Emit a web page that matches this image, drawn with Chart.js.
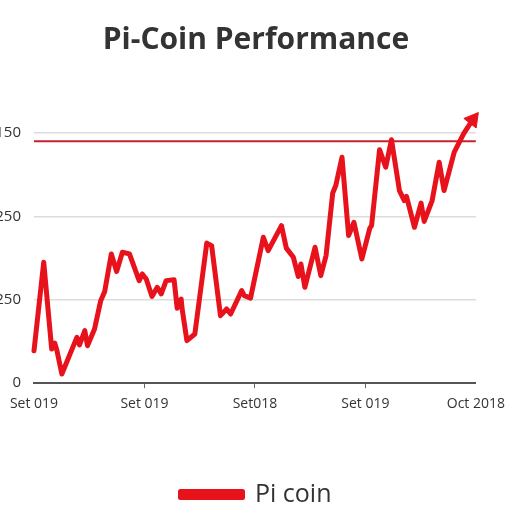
<!DOCTYPE html>
<html>
<head>
<meta charset="utf-8">
<script src="https://cdn.jsdelivr.net/npm/chart.js@4/dist/chart.umd.min.js"></script>
<style>
  html, body { margin: 0; padding: 0; background: #fff; }
  canvas { display: block; }
</style>
</head>
<body>
<canvas id="grafico" width="512" height="512"></canvas>
<script>
// valores (x: 0..100 ao longo do eixo, y: unidades do eixo)
const posicoes = [0, 2.2, 4, 4.7, 5.2, 6.3, 9.7, 10.3, 11.5, 12.1, 13.7, 15.1, 16, 17.5, 18.7, 20,
  21.6, 23.8, 24.5, 25.4, 26.7, 27.9, 28.8, 29.9, 31.7, 32.4, 33.3, 33.5, 34.6, 36.4, 39.1, 40.2,
  42.2, 43.6, 44.5, 47, 47.6, 49, 51.9, 53, 56, 57.1, 58.7, 59.8, 60.4, 61.3, 63.6, 64.9, 66.1,
  67.6, 68.3, 69.7, 71.2, 72.4, 74.2, 76, 76.4, 78.2, 79.6, 80.9, 82.7, 83.8, 84.3, 86.1, 87.6,
  88.3, 90.1, 91.7, 92.8, 95.1, 97.3, 99.3];
const valoresPi = [39, 145, 41, 48, 39, 11, 55, 46, 63, 45, 65, 99, 110, 155, 134, 157,
  155, 123, 131, 125, 104, 115, 107, 123, 124, 90, 101, 90, 51, 59, 168, 165,
  81, 89, 83, 111, 105, 102, 175, 159, 189, 162, 151, 128, 143, 115, 163, 129, 153,
  228, 237, 271, 177, 193, 149, 186, 189, 280, 259, 292, 231, 219, 224, 187, 216,
  194, 219, 265, 231, 277, 300, 316];
const nivelReferencia = 290;

const ticksX = [0, 25, 50, 75, 100];
const rotulosX = ['Set 019', 'Set 019', 'Set018', 'Set 019', 'Oct 2018'];
const ticksY = [0, 100, 200, 300];
const rotulosY = ['0', '250', '250', '150'];

const vermelho = '#e8121c';
const ultimo = posicoes.length - 1;

const pontos = posicoes.map((x, i) => ({ x, y: valoresPi[i] }));

new Chart(document.getElementById('grafico').getContext('2d'), {
  type: 'line',
  data: {
    datasets: [
      {
        label: 'Pi coin',
        data: pontos,
        borderColor: vermelho,
        backgroundColor: vermelho,
        borderWidth: 5,
        borderJoinStyle: 'round',
        borderCapStyle: 'round',
        tension: 0,
        clip: false,
        pointStyle: 'triangle',
        pointRotation: 38,
        pointRadius: ctx => ctx.dataIndex === ultimo ? 9 : 0,
        pointBorderWidth: 1
      },
      {
        label: 'ref',
        data: [{ x: 0, y: nivelReferencia }, { x: 100, y: nivelReferencia }],
        borderColor: '#c9202e',
        borderWidth: 2,
        pointRadius: 0
      }
    ]
  },
  options: {
    responsive: false,
    animation: false,
    layout: { padding: { left: 0, right: 0, top: 0, bottom: -5 } },
    plugins: {
      title: {
        display: true,
        text: 'Pi-Coin Performance',
        color: '#333',
        font: { family: 'Open Sans', size: 30, weight: 'bold' },
        padding: { top: 22, bottom: 50 }
      },
      legend: {
        position: 'bottom',
        labels: {
          boxWidth: 62,
          boxHeight: 6,
          padding: 0,
          color: '#333',
          font: { family: 'Open Sans', size: 25 },
          filter: item => item.datasetIndex === 0
        }
      },
      tooltip: { enabled: false }
    },
    scales: {
      x: {
        type: 'linear',
        min: 0,
        max: 100,
        afterBuildTicks: s => { s.ticks = ticksX.map(v => ({ value: v })); },
        afterFit: s => { s.height += 63; },
        ticks: {
          color: '#333',
          font: { family: 'Open Sans', size: 14 },
          padding: 7,
          maxRotation: 0,
          callback: (v, i) => rotulosX[i]
        },
        grid: {
          drawOnChartArea: false,
          tickLength: 5,
          color: ctx => (ctx.index > 0 && ctx.index < ticksX.length - 1) ? '#666' : 'rgba(0,0,0,0)'
        },
        border: { color: '#555', width: 2 }
      },
      y: {
        min: 0,
        max: 330,
        afterBuildTicks: s => { s.ticks = ticksY.map(v => ({ value: v })); },
        afterFit: s => { s.width = 34; },
        ticks: {
          color: '#333',
          font: { family: 'Open Sans', size: 15 },
          padding: 13,
          callback: (v, i) => rotulosY[i]
        },
        grid: { color: '#dcdcdc', lineWidth: 1.5, drawTicks: false },
        border: { display: false }
      }
    }
  }
});
</script>
</body>
</html>
